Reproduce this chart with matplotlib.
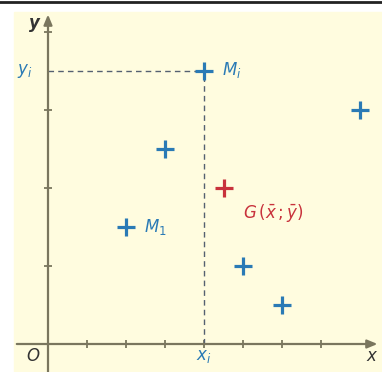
import matplotlib
matplotlib.use("Agg")
import matplotlib.pyplot as plt
from matplotlib.patches import Rectangle

# points of the scatter (M_1 ... M_i ...)
xs = [2, 3, 4, 5, 6, 8]
ys = [3, 5, 7, 2, 1, 6]
# mean point G
gx, gy = 4.5, 4
# point M_i used for the dashed guides
xi, yi = 4, 7
xticks = [1, 2, 3, 4, 5, 6, 7]
yticks = [2, 4, 6, 8]

blue = "#2a7ab5"
red = "#c8323c"
axis_col = "#7a765e"
cream = "#fffcdf"

fig = plt.figure(figsize=(3.82, 3.72), dpi=100)
ax = fig.add_axes([0, 0, 1, 1])
ax.set_xlim(-48 / 39, 334 / 39)
ax.set_ylim(-28 / 39, 344 / 39)
ax.axis("off")

# cream background panel and top border
ax.add_patch(Rectangle((-34 / 39, -1), 10, 332 / 39 + 1, color=cream, zorder=0))
fig.add_artist(plt.Line2D([0, 1], [0.994, 0.994], color="#222222", lw=2))

# axes with arrows
ax.annotate("", xy=(8.52, 0), xytext=(-34 / 39, 0),
            arrowprops=dict(arrowstyle="-|>,head_length=0.6,head_width=0.25",
                            color=axis_col, lw=1.6))
ax.annotate("", xy=(0, 8.52), xytext=(0, -1),
            arrowprops=dict(arrowstyle="-|>,head_length=0.6,head_width=0.25",
                            color=axis_col, lw=1.6))
ax.plot(xticks, [0] * len(xticks), "|", color=axis_col, ms=6, mew=1.3)
ax.plot([0] * len(yticks), yticks, "_", color=axis_col, ms=6, mew=1.3)

# dashed guides to M_i
ax.plot([0, xi], [yi, yi], "--", color="#556070", lw=1, dashes=(4, 3))
ax.plot([xi, xi], [0, yi], "--", color="#556070", lw=1, dashes=(4, 3))

ax.plot(xs, ys, "+", color=blue, ms=13, mew=2.3, zorder=5)
ax.plot(gx, gy, "+", color=red, ms=13, mew=2.3, zorder=5)

fs = 12
ax.text(-0.36, 8.23, "y", fontsize=fs, style="italic", color="#333333",
        ha="center", va="center", fontweight="bold")
ax.text(-0.38, -0.3, "O", fontsize=fs, style="italic", color="#333333",
        ha="center", va="center")
ax.text(8.29, -0.3, "x", fontsize=fs, style="italic", color="#333333",
        ha="center", va="center")
ax.text(xi, -0.3, "$x_i$", fontsize=fs, color=blue, ha="center", va="center")
ax.text(-0.6, yi, "$y_i$", fontsize=fs, color=blue, ha="center", va="center")
ax.text(xi + 0.45, yi + 0.03, "$M_i$", fontsize=fs, color=blue, ha="left", va="center")
ax.text(2.45, 3.0, "$M_1$", fontsize=fs, color=blue, ha="left", va="center")
ax.text(gx + 0.5, gy - 0.65, r"$G\,(\bar{x}\,;\bar{y})$", fontsize=fs, color=red,
        ha="left", va="center")

fig.savefig("out.png", dpi=100)
